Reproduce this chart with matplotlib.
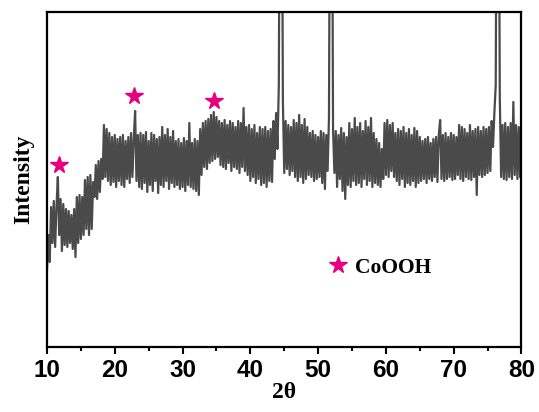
import numpy as np
import matplotlib.pyplot as plt
from matplotlib.ticker import MultipleLocator

# XRD pattern, 2theta from 10 to 80 in 0.2 deg steps (intensity in arbitrary units)
two_theta = np.round(np.arange(10.0, 80.01, 0.2), 1)
intensity = [
    77, 112, 85, 140, 104,      # 10
    146, 100, 140, 170, 112,    # 11
    148, 96, 143, 102, 138,     # 12
    100, 136, 104, 132, 98,     # 13
    138, 90, 150, 104, 152,     # 14
    108, 150, 112, 167, 118,    # 15
    170, 112, 172, 118, 165,    # 16
    150, 182, 148, 186, 155,    # 17
    188, 168, 222, 170, 218,    # 18
    166, 214, 162, 210, 165,    # 19
    212, 160, 208, 166, 210,    # 20
    162, 212, 160, 206, 168,    # 21
    210, 164, 214, 170, 208,    # 22
    236, 166, 212, 160, 214,    # 23
    158, 212, 164, 215, 155,    # 24
    206, 162, 214, 156, 212,    # 25
    166, 208, 154, 210, 162,    # 26
    220, 160, 212, 166, 218,    # 27
    158, 210, 164, 216, 160,    # 28
    206, 162, 208, 158, 204,    # 29
    160, 209, 156, 206, 162,    # 30
    224, 160, 204, 158, 208,    # 31
    156, 206, 152, 218, 172,    # 32
    224, 180, 226, 178, 228,    # 33
    184, 232, 186, 235, 188,    # 34
    230, 190, 226, 182, 224,    # 35
    180, 227, 178, 222, 184,    # 36
    226, 176, 224, 180, 220,    # 37
    178, 226, 174, 224, 180,    # 38
    239, 176, 220, 172, 222,    # 39
    166, 218, 170, 222, 164,    # 40
    214, 168, 220, 162, 218,    # 41
    164, 220, 160, 216, 166,    # 42
    218, 165, 226, 188, 234,    # 43
    198, 262, 600, 600, 246,    # 44
    174, 226, 178, 222, 172,    # 45
    220, 176, 227, 170, 224,    # 46
    166, 232, 170, 222, 164,    # 47
    228, 168, 220, 172, 214,    # 48
    170, 216, 166, 212, 168,    # 49
    210, 170, 216, 164, 214,    # 50
    158, 212, 176, 230, 600,    # 51
    600, 218, 174, 216, 160,    # 52
    212, 168, 219, 156, 214,    # 53
    148, 210, 162, 224, 160,    # 54
    218, 166, 229, 162, 220,    # 55
    164, 224, 160, 216, 168,    # 56
    226, 162, 220, 166, 229,    # 57
    160, 214, 164, 208, 162,    # 58
    204, 160, 198, 168, 224,    # 59
    172, 227, 170, 222, 176,    # 60
    224, 170, 214, 166, 218,    # 61
    162, 216, 168, 220, 160,    # 62
    214, 164, 218, 162, 212,    # 63
    166, 219, 160, 216, 164,    # 64
    210, 166, 206, 168, 208,    # 65
    164, 210, 168, 204, 166,    # 66
    208, 170, 210, 165, 212,    # 67
    227, 168, 212, 166, 214,    # 68
    168, 210, 170, 214, 167,    # 69
    212, 168, 210, 172, 222,    # 70
    168, 220, 166, 218, 170,    # 71
    214, 168, 222, 167, 216,    # 72
    170, 218, 152, 220, 172,    # 73
    216, 170, 220, 172, 218,    # 74
    174, 220, 176, 226, 200,    # 75
    234, 262, 600, 600, 250,    # 76
    170, 222, 168, 224, 167,    # 77
    220, 170, 224, 168, 245,    # 78
    172, 222, 168, 220, 170,    # 79
    224,                        # 80
]

# CoOOH markers
star_x = [11.8, 22.8, 34.7]
star_y = [182, 251, 246]

pink = '#e6007e'
line_col = '#4a4a4a'

fig = plt.figure(figsize=(5.39, 4.12), dpi=100)
ax = fig.add_axes([0.0872, 0.1578, 0.8803, 0.8131])

ax.plot(two_theta, intensity, color=line_col, lw=1.6)
ax.plot(star_x, star_y, ls='none', marker='*', ms=13, color=pink)

# legend
h, = ax.plot([], [], ls='none', marker='*', ms=13, color=pink, label='CoOOH')
ax.legend(handles=[h], loc='center left', bbox_to_anchor=(0.55, 0.236),
          frameon=False, handlelength=1.0, handletextpad=0.3,
          prop={'family': 'Liberation Serif', 'weight': 'bold', 'size': 15.5})

ax.set_xlim(10, 80)
ax.set_ylim(0, 335)
ax.set_yticks([])
ax.xaxis.set_major_locator(MultipleLocator(10))
ax.xaxis.set_minor_locator(MultipleLocator(5))
ax.tick_params(axis='x', which='major', direction='out', length=5, width=1.5, pad=4)
ax.tick_params(axis='x', which='minor', direction='out', length=3, width=1.5)
for lab in ax.get_xticklabels():
    lab.set_fontfamily('Liberation Sans')
    lab.set_fontweight('bold')
    lab.set_fontsize(17.5)
for s in ax.spines.values():
    s.set_linewidth(1.6)

ax.set_xlabel('2θ', family='Liberation Serif', weight='bold', size=17, labelpad=0)
ax.set_ylabel('Intensity', family='Liberation Serif', weight='bold', size=17, labelpad=9)

fig.savefig('out.png', dpi=100)
